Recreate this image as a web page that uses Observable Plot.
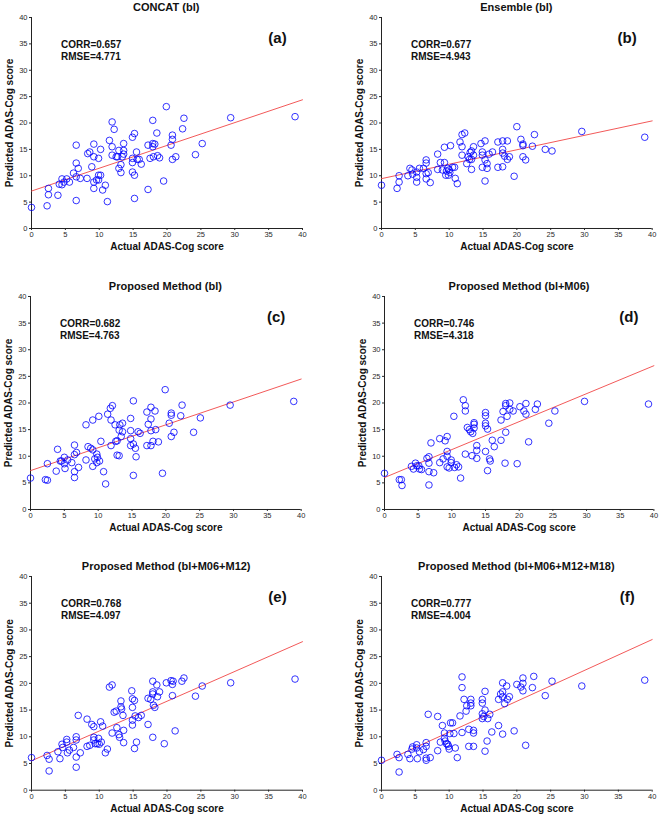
<!DOCTYPE html>
<html><head><meta charset="utf-8">
<script src="https://cdn.jsdelivr.net/npm/d3@7"></script>
<script src="https://cdn.jsdelivr.net/npm/@observablehq/plot@0.6"></script>
<style>
body{margin:0;background:#fff;}
#chart{position:relative;width:662px;height:817px;font-family:"Liberation Sans",Arial,sans-serif;overflow:hidden;}
.ttl{position:absolute;transform:translate(-50%,-50%);font-weight:bold;font-size:11px;white-space:nowrap;color:#111;}
.pan{position:absolute;}
</style></head><body><div id="chart"></div><script>
const titles = ["CONCAT (bl)", "Ensemble (bl)", "Proposed Method (bl)", "Proposed Method (bl+M06)", "Proposed Method (bl+M06+M12)", "Proposed Method (bl+M06+M12+M18)"];
const letters = ["(a)", "(b)", "(c)", "(d)", "(e)", "(f)"];
const corr = ["0.657", "0.677", "0.682", "0.746", "0.768", "0.777"];
const rmse = ["4.771", "4.943", "4.763", "4.318", "4.097", "4.004"];
const ticks = [0, 5, 10, 15, 20, 25, 30, 35, 40];
const xLabel = "Actual ADAS-Cog score";
const yLabel = "Predicted ADAS-Cog score";
// regression line: predicted value at actual = 0 and at actual = 40
const fitX = [0, 40];
const fitStart = [7.1, 9.45, 7.3, 6.0, 5.5, 5.1];
const fitEnd = [24.4, 20.4, 24.5, 27.0, 27.8, 28.2];

const ptsA = [[0,4.0],[2.3,4.3],[2.5,7.6],[2.5,6.4],[3.9,6.3],[4.1,8.4],[4.5,9.4],[4.5,8.3],[4.8,8.8],[5.2,9.4],[5.6,8.8],[6.2,10.5],[6.6,5.3],[6.6,15.8],[6.6,12.4],[6.6,9.8],[6.9,11.4],[7.2,9.5],[8.2,9.5],[8.3,14.2],[8.6,14.5],[8.9,11.7],[9.2,16.0],[9.2,13.6],[9.2,8.8],[9.2,7.6],[9.6,9.2],[9.9,9.2],[9.9,10.1],[9.9,13.3],[10.2,15.0],[10.2,10.1],[10.5,7.3],[10.9,8.2],[11.2,5.1],[11.5,16.7],[11.9,20.2],[11.9,15.5],[11.9,13.9],[12.2,18.8],[12.5,13.6],[12.7,13.6],[12.9,14.8],[12.9,11.4],[13.2,10.6],[13.2,12.1],[13.4,13.6],[13.6,16.1],[13.6,14.8],[13.6,14.1],[14.9,17.3],[14.9,12.5],[14.9,13.3],[14.9,10.7],[15.2,18.0],[15.2,10.1],[15.2,5.7],[15.5,14.5],[15.6,13.1],[15.9,13.1],[16.2,12.2],[17.2,15.8],[17.2,7.4],[17.5,13.3],[17.9,20.5],[17.9,16.1],[17.9,15.5],[18.2,16.0],[18.5,18.1],[18.6,13.8],[18.9,13.4],[19.5,9.0],[19.9,23.1],[20.6,15.8],[20.8,17.7],[20.8,16.9],[20.8,13.1],[21.3,13.6],[22.3,18.9],[22.5,20.9],[24.2,14.0],[25.2,16.1],[29.4,21.0],[38.9,21.2],[18.0,13.6]];
const ptsB = [[0,8.2],[2.3,7.6],[2.6,10.0],[2.6,8.8],[3.9,10.0],[4.2,11.4],[4.5,11.1],[4.6,10.3],[5.2,10.7],[5.2,9.7],[5.2,8.8],[5.6,11.4],[6.2,11.4],[6.6,13.0],[6.6,12.4],[6.6,10.4],[6.6,9.4],[6.9,10.6],[7.2,8.7],[8.3,14.1],[8.3,11.2],[8.7,12.5],[9.0,11.1],[9.3,15.4],[9.3,12.5],[9.5,10.1],[9.6,10.9],[9.8,11.4],[9.9,10.1],[10.0,11.1],[10.1,10.6],[10.2,15.7],[10.5,11.6],[10.8,11.6],[10.9,9.5],[11.2,8.5],[11.6,16.4],[11.9,17.8],[11.9,15.5],[11.9,13.9],[12.3,18.1],[12.6,12.3],[12.8,13.6],[13.0,13.1],[13.1,14.4],[13.3,14.7],[13.3,11.2],[13.6,15.5],[13.6,13.9],[14.7,16.1],[14.9,14.5],[14.9,13.9],[14.9,11.6],[15.3,16.6],[15.3,13.0],[15.3,9.0],[15.6,12.3],[15.6,11.4],[15.9,14.1],[16.4,14.5],[17.2,16.4],[17.2,11.6],[17.9,15.0],[17.9,14.3],[17.9,16.6],[17.9,11.7],[18.2,13.7],[18.6,16.6],[18.6,13.1],[18.9,13.6],[19.6,9.9],[20.0,19.3],[20.6,16.9],[20.9,16.0],[20.9,15.7],[20.9,13.6],[21.3,13.0],[22.3,15.6],[22.6,17.8],[24.2,15.0],[25.2,14.7],[29.6,18.4],[38.9,17.3],[13.3,13.1]];
const ptsC = [[0,5.9],[2.2,5.6],[2.5,5.5],[2.5,8.6],[3.8,7.2],[4.0,11.3],[4.4,9.1],[4.6,9.1],[5.0,9.8],[5.0,8.6],[5.1,7.7],[5.5,9.3],[6.1,8.8],[6.5,12.1],[6.5,10.3],[6.5,7.1],[6.5,6.0],[6.8,10.7],[7.1,7.9],[8.2,15.9],[8.2,9.3],[8.5,11.8],[8.9,11.5],[9.2,16.8],[9.2,11.2],[9.2,8.1],[9.5,9.5],[9.8,10.4],[9.8,8.8],[9.9,9.8],[10.1,17.5],[10.2,9.1],[10.4,12.8],[10.8,7.1],[11.1,4.8],[11.4,17.9],[11.8,19.0],[11.9,16.8],[11.9,12.0],[12.1,19.5],[12.5,15.9],[12.6,12.8],[12.8,12.9],[12.8,10.2],[13.1,10.1],[13.1,14.9],[13.2,15.9],[13.4,13.7],[13.6,16.2],[13.6,14.6],[14.8,17.1],[14.8,14.8],[14.8,13.3],[14.8,12.0],[15.2,20.4],[15.2,12.3],[15.2,6.4],[15.5,11.5],[15.6,9.9],[15.9,14.6],[16.2,14.3],[17.2,18.3],[17.2,12.0],[17.4,16.0],[17.8,19.2],[17.8,17.0],[17.8,12.0],[17.8,14.8],[18.1,12.8],[18.4,18.5],[18.5,15.0],[18.9,12.7],[19.5,6.8],[19.9,22.5],[20.5,16.2],[20.8,18.1],[20.8,17.7],[20.8,13.7],[21.2,14.5],[22.2,17.6],[22.4,19.6],[24.1,14.5],[25.1,17.2],[29.5,19.6],[38.9,20.3]];
const ptsD = [[0,6.8],[2.2,5.6],[2.5,5.6],[2.6,4.5],[4.0,8.1],[4.3,7.6],[4.6,8.7],[4.8,8.2],[5.1,8.2],[5.2,7.6],[5.5,7.5],[6.3,9.6],[6.6,9.9],[6.6,8.7],[6.6,7.1],[6.6,4.6],[6.9,12.5],[7.3,6.9],[8.2,13.3],[8.2,8.8],[8.7,9.5],[9.0,12.9],[9.3,13.7],[9.3,10.9],[9.3,10.0],[9.3,8.0],[9.6,7.8],[9.9,9.3],[9.9,8.8],[10.3,17.5],[10.4,7.9],[10.7,8.4],[11.0,8.0],[11.3,5.9],[11.7,20.6],[12.0,19.5],[12.0,18.5],[12.0,10.4],[12.3,15.4],[12.6,15.0],[12.8,14.6],[13.0,10.1],[13.1,14.3],[13.3,15.3],[13.3,16.3],[13.3,16.0],[13.7,12.0],[13.7,11.1],[13.7,9.6],[15.0,18.2],[15.0,17.6],[15.0,16.2],[15.0,15.7],[15.0,10.9],[15.3,15.1],[15.3,7.3],[15.6,9.5],[15.7,9.1],[16.0,13.0],[16.3,11.8],[17.3,16.8],[17.3,13.0],[17.6,18.4],[17.9,8.7],[18.0,14.5],[18.0,19.9],[18.0,19.5],[18.2,17.5],[18.6,20.0],[18.6,18.8],[19.1,18.5],[19.7,8.6],[20.1,19.3],[20.7,18.5],[21.0,19.9],[21.0,17.9],[21.4,12.7],[22.4,18.8],[22.7,19.8],[24.4,16.2],[25.3,18.5],[29.7,20.3],[39.2,19.8]];
const ptsE = [[0,6.1],[2.3,6.5],[2.6,5.8],[2.6,3.6],[3.9,7.2],[4.2,5.9],[4.5,8.6],[4.6,8.0],[5.2,9.5],[5.2,9.0],[5.3,7.0],[5.6,7.5],[6.2,8.0],[6.6,10.0],[6.6,9.4],[6.6,6.2],[6.6,4.3],[6.9,14.0],[7.2,7.0],[8.2,13.3],[8.2,8.2],[8.6,8.4],[8.9,12.3],[9.2,11.9],[9.2,9.9],[9.2,9.4],[9.4,8.7],[9.7,8.7],[9.9,9.7],[10.0,8.6],[10.2,12.8],[10.3,9.0],[10.5,12.0],[10.9,7.0],[11.2,7.7],[11.5,19.3],[11.9,19.7],[11.9,10.7],[12.2,14.6],[12.5,14.8],[12.6,11.7],[12.9,10.4],[13.0,9.9],[13.2,16.7],[13.2,15.6],[13.3,15.2],[13.5,14.0],[13.6,11.2],[13.6,8.9],[14.8,18.6],[14.9,17.1],[14.9,15.5],[14.9,13.1],[14.9,12.2],[15.2,16.8],[15.2,7.8],[15.3,13.9],[15.5,9.0],[15.8,13.6],[16.2,14.0],[17.2,12.3],[17.2,17.2],[17.6,17.0],[17.9,20.4],[17.9,18.4],[17.9,18.0],[17.9,9.9],[18.0,15.9],[18.2,15.5],[18.5,19.7],[18.6,17.5],[18.9,18.4],[19.6,8.7],[19.9,20.1],[20.6,20.5],[20.8,19.8],[20.8,17.7],[20.9,20.4],[21.2,11.1],[22.2,20.4],[22.5,21.0],[24.2,17.6],[25.2,19.5],[29.4,20.1],[38.9,20.8]];
const ptsF = [[0,5.6],[2.3,6.7],[2.6,6.1],[2.6,3.4],[3.9,6.7],[4.2,5.9],[4.5,7.7],[4.6,8.1],[5.2,8.5],[5.2,7.9],[5.3,5.9],[5.6,7.2],[6.2,7.6],[6.6,8.9],[6.6,8.2],[6.6,6.0],[6.6,5.6],[6.9,14.2],[7.2,6.1],[8.3,13.8],[8.3,7.4],[8.7,9.0],[9.0,12.1],[9.3,10.7],[9.3,9.7],[9.4,9.2],[9.6,8.7],[9.8,8.6],[9.9,8.2],[10.0,7.7],[10.1,10.6],[10.2,12.6],[10.5,12.6],[10.7,10.6],[10.9,7.9],[11.2,6.1],[11.6,13.9],[11.9,21.2],[11.9,19.2],[11.9,10.8],[12.2,17.0],[12.5,14.8],[12.6,15.8],[12.9,11.4],[12.9,8.2],[13.2,17.0],[13.2,16.3],[13.2,15.8],[13.6,11.2],[13.6,10.7],[13.6,8.2],[14.9,17.0],[14.9,16.3],[14.9,14.3],[14.9,13.4],[15.1,13.8],[15.3,18.5],[15.3,15.0],[15.3,7.3],[15.6,9.2],[15.7,13.4],[16.0,14.2],[16.3,10.9],[17.3,17.0],[17.3,12.1],[17.6,18.0],[17.9,20.1],[17.9,18.4],[17.9,17.5],[17.9,10.5],[18.2,16.2],[18.5,19.5],[18.6,17.0],[18.9,17.5],[19.6,11.1],[20.0,19.8],[20.6,19.3],[20.9,21.0],[20.9,20.0],[20.9,18.6],[21.3,8.4],[22.3,19.2],[22.5,21.3],[24.2,17.7],[25.2,20.4],[29.6,19.5],[38.9,20.6]];
const points = [ptsA, ptsB, ptsC, ptsD, ptsE, ptsF];

// panel placement in the page (pixels): plot-area left, width, top, height
const layout = [
  {x0: 30.7, pw: 271, yt: 17.3, ph: 211},
  {x0: 381, pw: 270.7, yt: 17.3, ph: 211},
  {x0: 30, pw: 270.7, yt: 295.7, ph: 213},
  {x0: 384.3, pw: 269.4, yt: 295.7, ph: 213},
  {x0: 30.7, pw: 271, yt: 576.3, ph: 213.7},
  {x0: 381, pw: 270.7, yt: 576.3, ph: 213.7}
];

const chart = document.getElementById("chart");
const font = '"Liberation Sans", Arial, sans-serif';
const ML = 31, MT = 10, MR = 8, MB = 30;

titles.forEach((t, i) => {
  const L = layout[i];
  const fit = fitX.map((x, k) => ({x, y: k === 0 ? fitStart[i] : fitEnd[i]}));
  const svg = Plot.plot({
    width: ML + L.pw + MR,
    height: MT + L.ph + MB,
    marginLeft: ML, marginTop: MT, marginRight: MR, marginBottom: MB,
    x: {domain: [0, 40]},
    y: {domain: [0, 40]},
    style: {fontFamily: font, fontSize: "7.5px", color: "#2a2a2a", background: "transparent", overflow: "visible"},
    marks: [
      Plot.axisX({ticks, tickSize: 2, tickPadding: 1, label: null}),
      Plot.axisY({ticks, tickSize: 2, tickPadding: 2, label: null}),
      Plot.ruleX([0], {stroke: "#222", strokeWidth: 1}),
      Plot.ruleY([0], {stroke: "#222", strokeWidth: 1}),
      Plot.line(fit, {x: "x", y: "y", stroke: "#f04646", strokeWidth: 0.9}),
      Plot.dot(points[i], {x: d => d[0], y: d => d[1], r: 3.3, stroke: "#0000ff", strokeWidth: 0.8, fill: "none"}),
      Plot.text([`CORR=${corr[i]}`], {text: d => d, frameAnchor: "top-left", dx: 29.5, dy: 27, textAnchor: "start", lineAnchor: "middle", fontWeight: "bold", fontSize: 10, fill: "#111"}),
      Plot.text([`RMSE=${rmse[i]}`], {text: d => d, frameAnchor: "top-left", dx: 29.5, dy: 39.5, textAnchor: "start", lineAnchor: "middle", fontWeight: "bold", fontSize: 10, fill: "#111"}),
      Plot.text([letters[i]], {text: d => d, frameAnchor: "top-right", dx: -25, dy: 21, textAnchor: "middle", lineAnchor: "middle", fontWeight: "bold", fontSize: 15, fill: "#111"}),
      Plot.text([xLabel], {text: d => d, frameAnchor: "bottom", dy: 18.5, textAnchor: "middle", lineAnchor: "middle", fontWeight: "bold", fontSize: 10, fill: "#111"}),
      Plot.text([yLabel], {text: d => d, frameAnchor: "left", dx: -21.5, rotate: -90, textAnchor: "middle", lineAnchor: "middle", fontWeight: "bold", fontSize: 10, fill: "#111"})
    ]
  });
  svg.classList.add("pan");
  svg.style.left = (L.x0 - ML) + "px";
  svg.style.top = (L.yt - MT) + "px";
  chart.appendChild(svg);
  const d = document.createElement("div");
  d.className = "ttl";
  d.textContent = t;
  d.style.left = (L.x0 + L.pw / 2) + "px";
  d.style.top = (L.yt - 10) + "px";
  chart.appendChild(d);
});
</script></body></html>
